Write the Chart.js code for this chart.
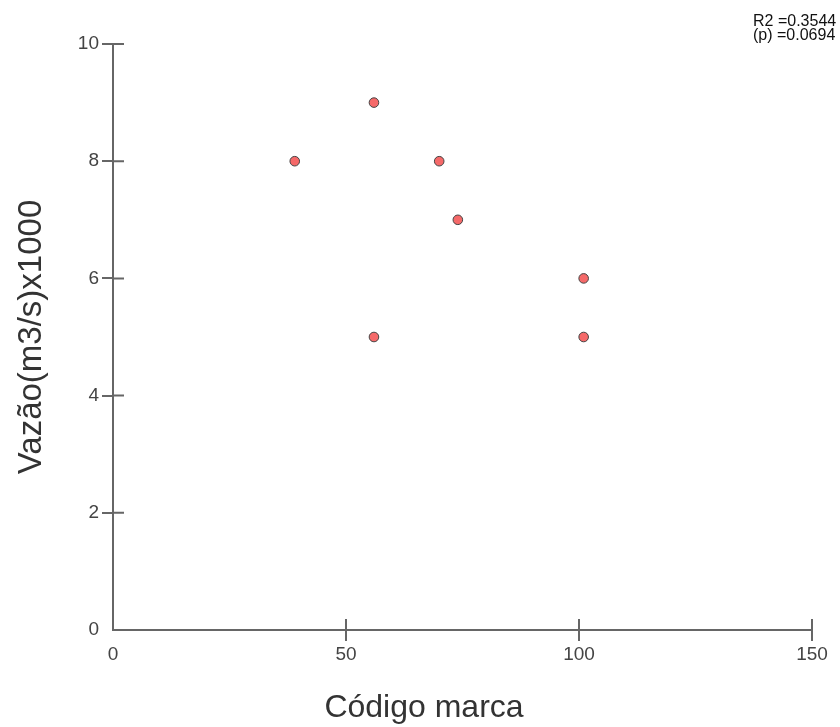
<!DOCTYPE html>
<html>
<head>
<meta charset="utf-8">
<script src="https://cdn.jsdelivr.net/npm/chart.js@4/dist/chart.umd.min.js"></script>
<style>
  body { margin: 0; background: #fff; }
  #wrap { position: relative; width: 840px; height: 727px; }
  #stats {
    position: absolute; left: 753px; top: 14px;
    font: 16px "Liberation Sans", Arial, sans-serif; line-height: 14px; color: #111;
  }
</style>
</head>
<body>
<div id="wrap">
  <canvas id="myChart" width="840" height="727"></canvas>
  <div id="stats">R2 =0.3544<br>(p) =0.0694</div>
</div>
<script>
// Código marca (x) vs vazão (y)
var codigo = [39, 56, 70, 74, 56, 101, 101];
var vazao = [8, 9, 8, 7, 5, 6, 5];
var xTicks = [0, 50, 100, 150];
var yTicks = [0, 2, 4, 6, 8, 10];

var axisColor = '#666';
var tickLen = 11;
var font = '"Liberation Sans", Arial, sans-serif';

var points = codigo.map(function (c, i) { return { x: c, y: vazao[i] }; });

// ticks cross the axis: Chart.js draws the outer half, this draws the inner half
var innerTicks = {
  id: 'innerTicks',
  afterDraw: function (chart) {
    var ctx = chart.ctx, area = chart.chartArea;
    var x = chart.scales.x, y = chart.scales.y;
    ctx.save();
    ctx.strokeStyle = axisColor;
    ctx.lineWidth = 2;
    ctx.beginPath();
    x.ticks.forEach(function (t) {
      if (t.value === 0) return;
      var px = x.getPixelForValue(t.value);
      ctx.moveTo(px, area.bottom);
      ctx.lineTo(px, area.bottom - tickLen);
    });
    y.ticks.forEach(function (t) {
      if (t.value === 0) return;
      var py = y.getPixelForValue(t.value);
      ctx.moveTo(area.left, py);
      ctx.lineTo(area.left + tickLen, py);
    });
    ctx.stroke();
    ctx.restore();
  }
};

function gridOpts() {
  return {
    drawOnChartArea: false,
    tickLength: tickLen,
    lineWidth: 2,
    color: function (c) { return c.tick && c.tick.value === 0 ? 'rgba(0,0,0,0)' : axisColor; }
  };
}

var ctx = document.getElementById('myChart').getContext('2d');
var chart = new Chart(ctx, {
  type: 'scatter',
  data: {
    datasets: [{
      label: 'Vazão',
      data: points,
      backgroundColor: 'rgb(245,105,105)',
      borderColor: '#444',
      borderWidth: 1,
      pointRadius: 4.8,
      pointHoverRadius: 4.8
    }]
  },
  options: {
    responsive: false,
    animation: false,
    // left padding pushes the bottom title to the right, like the original
    layout: { padding: { top: 44, right: 28, left: 36, bottom: 0 } },
    plugins: {
      legend: { display: false },
      tooltip: { enabled: false },
      title: {
        display: true,
        position: 'bottom',
        text: 'Código marca',
        color: '#333',
        font: { family: font, size: 32, weight: 'normal', lineHeight: 1.2 },
        padding: { top: 0, bottom: 0 }
      }
    },
    scales: {
      x: {
        type: 'linear',
        min: 0,
        max: 150,
        afterBuildTicks: function (s) { s.ticks = xTicks.map(function (v) { return { value: v }; }); },
        afterFit: function (s) { s.height = 58.6; },
        grid: gridOpts(),
        border: { color: axisColor, width: 2 },
        ticks: { color: '#444', padding: 2, font: { family: font, size: 19 } }
      },
      y: {
        type: 'linear',
        min: 0,
        max: 10,
        afterBuildTicks: function (s) { s.ticks = yTicks.map(function (v) { return { value: v }; }); },
        afterFit: function (s) { s.width = 77; },
        grid: gridOpts(),
        border: { color: axisColor, width: 2 },
        ticks: { color: '#444', padding: 3, font: { family: font, size: 19 } },
        title: {
          display: true,
          text: 'Vazão(m3/s)x1000',
          color: '#333',
          font: { family: font, size: 33, weight: 'normal', lineHeight: 1.2 },
          padding: { top: -24, bottom: 0 }
        }
      }
    }
  },
  plugins: [innerTicks]
});
</script>
</body>
</html>
